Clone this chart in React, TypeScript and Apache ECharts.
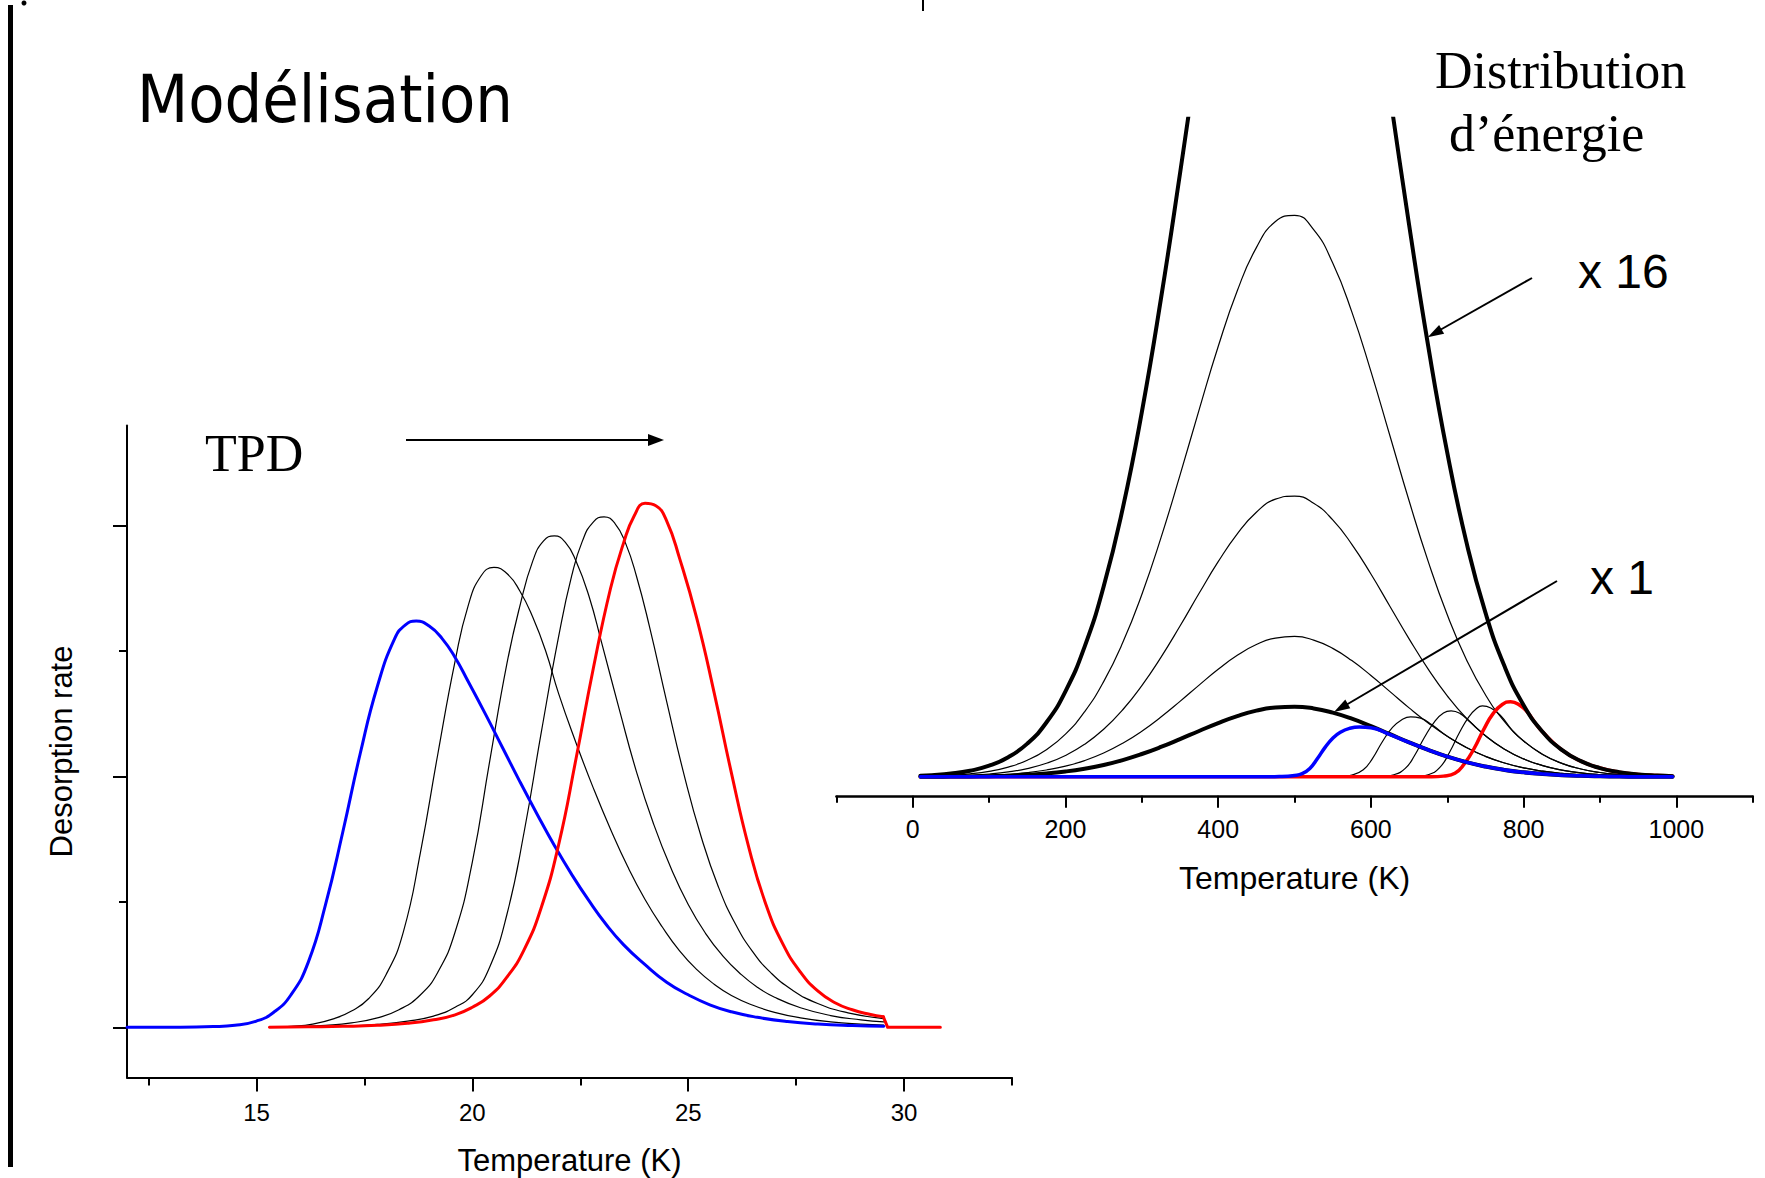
import React, { useEffect, useRef } from "react";
import * as echarts from "echarts";

// ---------- Left chart : TPD (Desorption rate vs Temperature) ----------
const TPD_MAJOR_TICKS = [15, 20, 25, 30];
const TPD_MINOR_TICKS = [12.5, 17.5, 22.5, 27.5, 32.5];
const RATE_MAJOR_TICKS = [0, 1, 2];
const RATE_MINOR_TICKS = [0.5, 1.5];

const TPD_BLUE: [number, number][] = [
  [12.0, 0], [13.0, 0.0005], [14.0, 0.003], [14.5, 0.008], [15.0, 0.025], [15.4, 0.06],
  [15.8, 0.13], [16.2, 0.26], [16.6, 0.49], [17.0, 0.78], [17.4, 1.09], [17.8, 1.36],
  [18.2, 1.55], [18.45, 1.605], [18.7, 1.62], [19.0, 1.6], [19.3, 1.55], [19.6, 1.475],
  [19.9, 1.38], [20.3, 1.25], [20.7, 1.115], [21.1, 0.98], [21.5, 0.85], [21.9, 0.725],
  [22.3, 0.61], [22.7, 0.505], [23.1, 0.41], [23.5, 0.33], [24.0, 0.25], [24.5, 0.18],
  [25.0, 0.13], [25.5, 0.09], [26.0, 0.062], [26.6, 0.04], [27.3, 0.023], [28.0, 0.013],
  [28.8, 0.007], [29.53, 0.004],
];

const TPD_BLACK_1: [number, number][] = [
  [15.3, 0], [15.8, 0.004], [16.3, 0.013], [16.8, 0.035], [17.2, 0.065], [17.6, 0.115],
  [18.0, 0.21], [18.4, 0.38], [18.8, 0.7], [19.2, 1.09], [19.6, 1.46], [19.9, 1.68],
  [20.2, 1.8], [20.5, 1.834], [20.8, 1.81], [21.1, 1.74], [21.4, 1.635], [21.7, 1.5],
  [22.0, 1.33], [22.4, 1.135], [22.8, 0.955], [23.2, 0.79], [23.6, 0.64], [24.0, 0.51],
  [24.4, 0.4], [24.8, 0.305], [25.2, 0.23], [25.6, 0.172], [26.0, 0.127], [26.5, 0.088],
  [27.0, 0.06], [27.6, 0.038], [28.3, 0.022], [29.0, 0.013], [29.53, 0.009],
];

const TPD_BLACK_2: [number, number][] = [
  [15.3, 0], [16.0, 0.003], [16.6, 0.008], [17.2, 0.018], [17.8, 0.038], [18.3, 0.07],
  [18.8, 0.13], [19.2, 0.22], [19.6, 0.38], [20.0, 0.66], [20.4, 1.06], [20.8, 1.45],
  [21.1, 1.68], [21.4, 1.86], [21.65, 1.94], [21.9, 1.96], [22.15, 1.935], [22.4, 1.86],
  [22.7, 1.72], [23.0, 1.53], [23.4, 1.27], [23.8, 1.02], [24.2, 0.81], [24.6, 0.635],
  [25.0, 0.49], [25.4, 0.375], [25.8, 0.285], [26.2, 0.215], [26.6, 0.16], [27.0, 0.12],
  [27.6, 0.078], [28.3, 0.047], [29.0, 0.03], [29.53, 0.022],
];

const TPD_BLACK_3: [number, number][] = [
  [15.3, 0], [16.2, 0.002], [17.0, 0.005], [17.8, 0.012], [18.5, 0.025], [19.1, 0.045],
  [19.6, 0.08], [20.0, 0.13], [20.4, 0.24], [20.8, 0.45], [21.2, 0.78], [21.6, 1.18],
  [22.0, 1.56], [22.3, 1.8], [22.55, 1.94], [22.8, 2.015], [23.05, 2.036], [23.3, 2.01],
  [23.55, 1.93], [23.8, 1.8], [24.1, 1.6], [24.5, 1.3], [24.9, 1.01], [25.3, 0.76],
  [25.7, 0.56], [26.1, 0.41], [26.5, 0.3], [26.9, 0.22], [27.4, 0.15], [28.0, 0.095],
  [28.7, 0.058], [29.53, 0.035],
];

const TPD_RED: [number, number][] = [
  [15.3, 0], [16.2, 0.002], [17.0, 0.004], [17.8, 0.008], [18.5, 0.016], [19.1, 0.03],
  [19.6, 0.05], [20.0, 0.08], [20.4, 0.125], [20.8, 0.2], [21.2, 0.31], [21.6, 0.48],
  [22.0, 0.73], [22.4, 1.07], [22.8, 1.43], [23.2, 1.75], [23.5, 1.93], [23.75, 2.04],
  [24.0, 2.09], [24.25, 2.08], [24.5, 2.02], [24.8, 1.87], [25.2, 1.63], [25.6, 1.335],
  [26.0, 1.015], [26.4, 0.72], [26.8, 0.49], [27.2, 0.33], [27.6, 0.22], [28.0, 0.145],
  [28.4, 0.098], [28.8, 0.07], [29.2, 0.052], [29.52, 0.042],
];
const TPD_RED_TAIL: [number, number][] = [
  [29.52, 0.042], [29.62, 0], [30.84, 0],
];

// ---------- Right chart : energy distribution ----------
const ENERGY_MAJOR_TICKS = [0, 200, 400, 600, 800, 1000];
const ENERGY_MINOR_TICKS = [-100, 100, 300, 500, 700, 900, 1100];

const ENERGY_T = [
  10, 25, 50, 75, 100, 125, 150, 175, 200, 225, 250, 275, 300, 325, 350, 375, 400,
  425, 450, 475, 500, 525, 550, 575, 600, 625, 650, 675, 700, 725, 750, 775, 800,
  825, 850, 875, 900, 925, 950, 975, 995,
];
const DIST_X1 = [
  0.001, 0.001, 0.003, 0.005, 0.01, 0.017, 0.03, 0.048, 0.076, 0.116, 0.169, 0.239,
  0.325, 0.425, 0.537, 0.653, 0.766, 0.865, 0.942, 0.988, 0.999, 0.974, 0.914, 0.828,
  0.722, 0.607, 0.491, 0.383, 0.288, 0.209, 0.146, 0.098, 0.064, 0.04, 0.024, 0.014,
  0.008, 0.004, 0.002, 0.001, 0.001,
];
const DIST_X2 = [
  0.002, 0.003, 0.006, 0.011, 0.02, 0.035, 0.059, 0.097, 0.152, 0.231, 0.339, 0.478,
  0.649, 0.851, 1.074, 1.306, 1.531, 1.73, 1.884, 1.976, 1.999, 1.947, 1.829, 1.655,
  1.443, 1.213, 0.982, 0.767, 0.577, 0.418, 0.292, 0.197, 0.128, 0.08, 0.048, 0.028,
  0.016, 0.008, 0.004, 0.002, 0.001,
];
const DIST_X4 = [
  0.004, 0.006, 0.011, 0.022, 0.04, 0.07, 0.118, 0.193, 0.305, 0.463, 0.677, 0.955,
  1.299, 1.701, 2.147, 2.613, 3.063, 3.46, 3.767, 3.953, 3.997, 3.895, 3.658, 3.31,
  2.887, 2.426, 1.965, 1.534, 1.154, 0.836, 0.584, 0.393, 0.255, 0.16, 0.096, 0.056,
  0.031, 0.017, 0.009, 0.004, 0.002,
];
const DIST_X8 = [
  0.008, 0.012, 0.023, 0.043, 0.079, 0.139, 0.236, 0.387, 0.609, 0.926, 1.355, 1.911,
  2.597, 3.402, 4.295, 5.225, 6.126, 6.92, 7.535, 7.906, 7.994, 7.79, 7.315, 6.62,
  5.773, 4.852, 3.93, 3.067, 2.307, 1.672, 1.168, 0.786, 0.51, 0.319, 0.192, 0.112,
  0.062, 0.034, 0.018, 0.009, 0.005,
];
const DIST_X16 = [
  0.015, 0.023, 0.046, 0.087, 0.158, 0.279, 0.473, 0.773, 1.218, 1.851, 2.71, 3.822,
  5.194, 6.804, 8.589, 10.45, 12.25, 13.84, 15.07, 15.81, 15.99, 15.58, 14.63, 13.24,
  11.55, 9.704, 7.86, 6.135, 4.615, 3.345, 2.337, 1.573, 1.02, 0.638, 0.384, 0.223,
  0.125, 0.067, 0.035, 0.018, 0.01,
];

const FILLED_BLUE: [number, number][] = [
  [10, 0], [450, 0], [480, 0.005], [500, 0.02], [510, 0.045], [520, 0.12], [530, 0.26],
  [540, 0.42], [550, 0.55], [560, 0.635], [572, 0.69], [585, 0.71], [600, 0.7],
  [625, 0.6], [650, 0.491], [675, 0.383], [700, 0.288], [725, 0.209], [750, 0.146],
  [775, 0.098], [800, 0.064], [825, 0.04], [850, 0.024], [875, 0.014], [900, 0.008],
  [925, 0.004], [950, 0.002], [995, 0.001],
];
const FILLED_BLACK_1: [number, number][] = [
  [10, 0], [540, 0], [560, 0.005], [575, 0.025], [590, 0.1], [602, 0.26], [615, 0.5],
  [628, 0.7], [640, 0.81], [652, 0.855], [665, 0.835], [680, 0.74], [700, 0.577],
  [725, 0.418], [750, 0.292], [775, 0.197], [800, 0.128], [825, 0.08], [850, 0.048],
  [875, 0.028], [900, 0.016], [925, 0.008], [950, 0.004], [995, 0.001],
];
const FILLED_BLACK_2: [number, number][] = [
  [10, 0], [600, 0], [615, 0.006], [630, 0.03], [645, 0.12], [657, 0.3], [670, 0.56],
  [683, 0.78], [695, 0.91], [705, 0.94], [717, 0.9], [730, 0.78], [750, 0.584],
  [775, 0.393], [800, 0.255], [825, 0.16], [850, 0.096], [875, 0.056], [900, 0.031],
  [925, 0.017], [950, 0.009], [975, 0.004], [995, 0.002],
];
const FILLED_BLACK_3: [number, number][] = [
  [10, 0], [645, 0], [660, 0.006], [675, 0.03], [690, 0.13], [703, 0.35], [716, 0.63],
  [728, 0.85], [738, 0.97], [746, 1.01], [757, 0.98], [770, 0.87], [785, 0.665],
  [800, 0.51], [825, 0.319], [850, 0.192], [875, 0.112], [900, 0.062], [925, 0.034],
  [950, 0.018], [975, 0.009], [995, 0.005],
];
const FILLED_RED: [number, number][] = [
  [10, 0], [680, 0], [695, 0.01], [710, 0.05], [722, 0.18], [735, 0.4], [748, 0.68],
  [760, 0.9], [772, 1.03], [783, 1.07], [795, 1.02], [805, 0.92], [815, 0.77],
  [825, 0.638], [850, 0.384], [875, 0.223], [900, 0.125], [925, 0.067], [950, 0.035],
  [975, 0.018], [995, 0.01],
];

const SANS = "'Liberation Sans', Arial, Helvetica, sans-serif";
const SERIF = "'Liberation Serif', 'Times New Roman', Times, serif";

function zip(xs: number[], ys: number[]): [number, number][] {
  return xs.map((x, i) => [x, ys[i]]);
}

function line(
  name: string,
  data: [number, number][],
  color: string,
  width: number,
  chartIndex: number,
  smooth: number | boolean = 0.5
) {
  return {
    name,
    type: "line",
    xAxisIndex: chartIndex === 0 ? 0 : 2,
    yAxisIndex: chartIndex === 0 ? 0 : 2,
    data,
    smooth,
    showSymbol: false,
    symbol: "none",
    silent: true,
    clip: true,
    lineStyle: { color, width, cap: "round", join: "round" },
  };
}

export default function App() {
  const ref = useRef<HTMLDivElement>(null);

  useEffect(() => {
    if (!ref.current) return;
    const chart = echarts.init(ref.current, undefined, { renderer: "svg" });

    const axisLineStyle = (w: number) => ({
      show: true,
      onZero: false,
      lineStyle: { color: "#000", width: w },
    });
    const hiddenLine = { show: false, onZero: false };

    const option: any = {
      animation: false,
      backgroundColor: "#fff",
      grid: [
        { left: 127, top: 425.5, width: 885, height: 652, outerBoundsMode: "none" },
        { left: 836.4, top: 118.7, width: 916.3, height: 677.1, outerBoundsMode: "none" },
      ],
      xAxis: [
        {
          gridIndex: 0,
          type: "value",
          min: 12,
          max: 32.5,
          position: "bottom",
          axisLine: axisLineStyle(2),
          axisTick: {
            show: true,
            customValues: TPD_MAJOR_TICKS,
            length: 14,
            lineStyle: { color: "#000", width: 2 },
          },
          axisLabel: {
            show: true,
            customValues: TPD_MAJOR_TICKS,
            formatter: (v: number) => String(v),
            color: "#000",
            fontSize: 24,
            fontFamily: SANS,
            margin: 23,
          },
          splitLine: { show: false },
          name: "Temperature (K)",
          nameLocation: "middle",
          nameGap: 67,
          nameTextStyle: { color: "#000", fontSize: 31, fontFamily: SANS },
        },
        {
          gridIndex: 0,
          type: "value",
          min: 12,
          max: 32.5,
          position: "bottom",
          axisLine: hiddenLine,
          axisTick: {
            show: true,
            customValues: TPD_MINOR_TICKS,
            length: 8,
            lineStyle: { color: "#000", width: 2 },
          },
          axisLabel: { show: false },
          splitLine: { show: false },
        },
        {
          gridIndex: 1,
          type: "value",
          min: -100,
          max: 1100,
          position: "bottom",
          axisLine: axisLineStyle(2.5),
          axisTick: {
            show: true,
            customValues: ENERGY_MAJOR_TICKS,
            length: 12,
            lineStyle: { color: "#000", width: 2 },
          },
          axisLabel: {
            show: true,
            customValues: ENERGY_MAJOR_TICKS,
            formatter: (v: number) => String(v),
            color: "#000",
            fontSize: 25,
            fontFamily: SANS,
            margin: 21,
          },
          splitLine: { show: false },
          name: "Temperature (K)",
          nameLocation: "middle",
          nameGap: 66,
          nameTextStyle: { color: "#000", fontSize: 32, fontFamily: SANS },
        },
        {
          gridIndex: 1,
          type: "value",
          min: -100,
          max: 1100,
          position: "bottom",
          axisLine: hiddenLine,
          axisTick: {
            show: true,
            customValues: ENERGY_MINOR_TICKS,
            length: 7,
            lineStyle: { color: "#000", width: 2 },
          },
          axisLabel: { show: false },
          splitLine: { show: false },
        },
      ],
      yAxis: [
        {
          gridIndex: 0,
          type: "value",
          min: -0.2,
          max: 2.4,
          position: "left",
          axisLine: axisLineStyle(2),
          axisTick: {
            show: true,
            customValues: RATE_MAJOR_TICKS,
            length: 14,
            lineStyle: { color: "#000", width: 2 },
          },
          axisLabel: { show: false },
          splitLine: { show: false },
          name: "Desorption rate",
          nameLocation: "middle",
          nameGap: 50,
          nameRotate: 90,
          nameTextStyle: { color: "#000", fontSize: 31, fontFamily: SANS },
        },
        {
          gridIndex: 0,
          type: "value",
          min: -0.2,
          max: 2.4,
          position: "left",
          axisLine: hiddenLine,
          axisTick: {
            show: true,
            customValues: RATE_MINOR_TICKS,
            length: 8,
            lineStyle: { color: "#000", width: 2 },
          },
          axisLabel: { show: false },
          splitLine: { show: false },
        },
        {
          gridIndex: 1,
          type: "value",
          min: -0.27,
          max: 9.37,
          show: false,
          axisLine: hiddenLine,
          splitLine: { show: false },
        },
      ],
      series: [
        // left chart
        line("TPD 2", TPD_BLACK_1, "#000", 1.2, 0),
        line("TPD 3", TPD_BLACK_2, "#000", 1.2, 0),
        line("TPD 4", TPD_BLACK_3, "#000", 1.2, 0),
        line("TPD 1", TPD_BLUE, "#0000ff", 3, 0),
        line("TPD 5", TPD_RED, "#ff0000", 3, 0),
        line("TPD 5 tail", TPD_RED_TAIL, "#ff0000", 3, 0, false),
        // right chart
        line("x 2", zip(ENERGY_T, DIST_X2), "#000", 1.2, 1),
        line("x 4", zip(ENERGY_T, DIST_X4), "#000", 1.2, 1),
        line("x 8", zip(ENERGY_T, DIST_X8), "#000", 1.2, 1),
        line("filled 2", FILLED_BLACK_1, "#000", 1.2, 1),
        line("filled 3", FILLED_BLACK_2, "#000", 1.2, 1),
        line("filled 4", FILLED_BLACK_3, "#000", 1.2, 1),
        line("filled 5", FILLED_RED, "#ff0000", 3.5, 1),
        line("x 16", zip(ENERGY_T, DIST_X16), "#000", 4, 1),
        line("x 1", zip(ENERGY_T, DIST_X1), "#000", 4, 1),
        line("filled 1", FILLED_BLUE, "#0000ff", 3.5, 1),
      ],
      graphic: [
        { type: "line", shape: { x1: 10.5, y1: 5, x2: 10.5, y2: 1167 }, style: { stroke: "#000", lineWidth: 5 } },
        { type: "circle", shape: { cx: 24, cy: 3, r: 2.5 }, style: { fill: "#000" } },
        { type: "line", shape: { x1: 923, y1: 0, x2: 923, y2: 11 }, style: { stroke: "#000", lineWidth: 2 } },
        {
          type: "text",
          x: 137,
          y: 99,
          style: {
            text: "Modélisation",
            fontSize: 66,
            fontFamily: "'Comic Sans MS', 'DejaVu Sans Condensed', 'DejaVu Sans', sans-serif",
            fill: "#000",
            align: "left",
            verticalAlign: "middle",
          },
        },
        {
          type: "text",
          x: 1435,
          y: 70,
          style: { text: "Distribution", fontSize: 52, fontFamily: SERIF, fill: "#000", align: "left", verticalAlign: "middle" },
        },
        {
          type: "text",
          x: 1449,
          y: 133,
          style: { text: "d’énergie", fontSize: 52, fontFamily: SERIF, fill: "#000", align: "left", verticalAlign: "middle" },
        },
        {
          type: "text",
          x: 205,
          y: 453,
          style: { text: "TPD", fontSize: 52, fontFamily: SERIF, fill: "#000", align: "left", verticalAlign: "middle" },
        },
        {
          type: "text",
          x: 1578,
          y: 271,
          style: { text: "x 16", fontSize: 48, fontFamily: SANS, fill: "#000", align: "left", verticalAlign: "middle" },
        },
        {
          type: "text",
          x: 1590,
          y: 577,
          style: { text: "x 1", fontSize: 48, fontFamily: SANS, fill: "#000", align: "left", verticalAlign: "middle" },
        },
        // TPD arrow
        { type: "line", shape: { x1: 406, y1: 440, x2: 652, y2: 440 }, style: { stroke: "#000", lineWidth: 2 } },
        { type: "polygon", shape: { points: [[648, 434], [664, 440], [648, 446]] }, style: { fill: "#000" } },
        // x 16 arrow
        { type: "line", shape: { x1: 1532, y1: 278, x2: 1440, y2: 330 }, style: { stroke: "#000", lineWidth: 2 } },
        { type: "polygon", shape: { points: [[1444.1, 333.7], [1427.7, 337.3], [1439.1, 325.0]] }, style: { fill: "#000" } },
        // x 1 arrow
        { type: "line", shape: { x1: 1557, y1: 581, x2: 1346, y2: 705 }, style: { stroke: "#000", lineWidth: 2 } },
        { type: "polygon", shape: { points: [[1350.3, 708.2], [1334, 712], [1345.3, 699.6]] }, style: { fill: "#000" } },
      ],
    };

    chart.setOption(option);
    return () => chart.dispose();
  }, []);

  return (
    <div
      ref={ref}
      style={{ position: "absolute", left: 0, top: 0, width: 1765, height: 1178, background: "#fff" }}
    />
  );
}
